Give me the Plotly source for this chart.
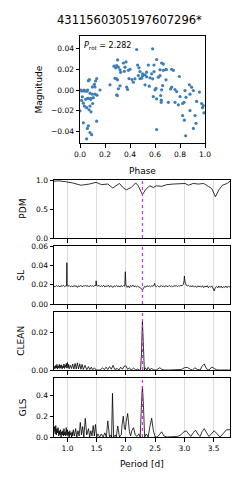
import plotly.graph_objects as go

TITLE = "4311560305197607296*"
P_ROT = 2.282

# Phase-folded light curve (phase, magnitude)
LC_POINTS = [
    (0.000, -0.020), (0.008, 0.000), (0.013, -0.001), (0.013, -0.010), (0.019, -0.0065),
    (0.027, -0.0127), (0.027, -0.0316), (0.032, 0.000), (0.035, -0.001), (0.035, -0.0155),
    (0.045, -0.009), (0.048, -0.001), (0.053, -0.017), (0.053, -0.047), (0.056, -0.001),
    (0.059, -0.037), (0.061, 0.000), (0.060, -0.008), (0.067, 0.009), (0.067, -0.008),
    (0.067, -0.0345), (0.072, -0.019), (0.075, 0.010), (0.080, -0.003), (0.080, -0.0155),
    (0.080, -0.041), (0.085, -0.009), (0.088, -0.008), (0.088, -0.021), (0.093, -0.043),
    (0.099, 0.003), (0.099, -0.004), (0.101, -0.013), (0.107, -0.0074), (0.115, 0.0055),
    (0.120, -0.004), (0.125, 0.0087), (0.133, 0.011), (0.133, -0.030), (0.136, -0.005),
    (0.120, 0.003), (0.160, 0.000),
    (0.240, 0.005), (0.272, 0.023), (0.280, 0.0113), (0.285, 0.0214), (0.293, 0.0235),
    (0.293, 0.0108), (0.293, -0.0046), (0.299, -0.0053), (0.300, 0.0098), (0.301, 0.029),
    (0.307, 0.022), (0.307, 0.0012), (0.320, 0.0195), (0.320, 0.004), (0.325, 0.017),
    (0.347, 0.026), (0.355, 0.018), (0.360, 0.022), (0.368, 0.027), (0.373, 0.0027),
    (0.381, 0.0005), (0.387, 0.019), (0.392, 0.011), (0.400, 0.020), (0.416, 0.0101),
    (0.427, 0.0075), (0.440, 0.0108), (0.453, 0.039), (0.461, 0.024), (0.467, 0.014),
    (0.472, 0.0214), (0.480, 0.011), (0.480, 0.0178), (0.493, 0.0114), (0.501, 0.0156),
    (0.501, 0.0137), (0.520, 0.0146), (0.520, 0.005), (0.533, 0.0172), (0.533, 0.0127),
    (0.547, 0.024), (0.554, 0.0037), (0.560, 0.0117), (0.573, 0.0156), (0.581, 0.0108),
    (0.581, 0.0397), (0.587, -0.0063), (0.592, 0.024), (0.592, 0.0178), (0.600, 0.0002),
    (0.608, 0.0015), (0.613, 0.0294), (0.613, -0.0085), (0.613, -0.038), (0.627, 0.0124),
    (0.640, 0.0138), (0.640, 0.0195), (0.645, -0.0053), (0.650, -0.0098), (0.650, -0.0118),
    (0.653, 0.026), (0.653, 0.0002), (0.661, 0.0043), (0.667, 0.025), (0.667, 0.019),
    (0.688, 0.020), (0.688, 0.0098), (0.690, 0.0195), (0.707, -0.0118), (0.725, 0.0011),
    (0.733, 0.020), (0.733, 0.0027), (0.747, 0.019), (0.760, 0.0005), (0.760, -0.0118),
    (0.773, -0.0015), (0.787, -0.0143), (0.795, 0.013), (0.800, -0.0063), (0.821, -0.013),
    (0.821, -0.0246), (0.832, -0.0118), (0.835, -0.029), (0.840, -0.0005), (0.845, -0.044),
    (0.848, -0.007), (0.875, 0.005), (0.880, -0.004), (0.880, -0.0198), (0.893, 0.0027),
    (0.907, -0.0005), (0.907, -0.037), (0.920, -0.0246), (0.928, -0.032), (0.933, -0.011),
    (0.955, -0.002), (0.973, -0.013), (0.980, -0.017), (0.987, -0.015), (0.992, -0.022),
]
PHASE = [p for p, m in LC_POINTS]
MAG = [m for p, m in LC_POINTS]

# PDM theta vs period
PDM_POINTS = [
    (0.77, 0.98), (0.857, 0.985), (0.97, 0.97), (1.086, 0.95), (1.23, 0.91), (1.374, 0.93),
    (1.49, 0.96), (1.58, 0.92), (1.69, 0.93), (1.776, 0.86), (1.83, 0.90), (1.89, 0.94),
    (1.94, 0.88), (2.006, 0.83), (2.09, 0.87), (2.167, 0.95), (2.21, 0.90), (2.282, 0.75),
    (2.35, 0.85), (2.41, 0.90), (2.47, 0.87), (2.52, 0.90), (2.61, 0.89), (2.70, 0.92),
    (2.81, 0.93), (2.93, 0.94), (3.01, 0.94), (3.07, 0.91), (3.15, 0.94), (3.24, 0.93),
    (3.33, 0.94), (3.41, 0.89), (3.47, 0.85), (3.53, 0.71), (3.59, 0.83), (3.65, 0.91),
    (3.73, 0.94), (3.78, 0.98),
]
PDM_P = [p for p, v in PDM_POINTS]
PDM_V = [v for p, v in PDM_POINTS]

# String length periodogram
SL_POINTS = [
    (0.77, 0.0185), (0.79, 0.0178), (0.81, 0.0192), (0.83, 0.0181), (0.85, 0.0189), (0.87, 0.0176),
    (0.89, 0.0190), (0.91, 0.0183), (0.93, 0.0194), (0.95, 0.0180), (0.97, 0.0188), (0.985, 0.0186),
    (0.99, 0.0427), (0.995, 0.0190), (1.01, 0.0183), (1.03, 0.0192), (1.05, 0.0179), (1.07, 0.0187),
    (1.09, 0.0175), (1.11, 0.0191), (1.13, 0.0182), (1.15, 0.0190), (1.17, 0.0171), (1.19, 0.0188),
    (1.21, 0.0180), (1.23, 0.0193), (1.25, 0.0178), (1.27, 0.0189), (1.29, 0.0183), (1.31, 0.0196),
    (1.33, 0.0180), (1.35, 0.0191), (1.37, 0.0177), (1.39, 0.0192), (1.41, 0.0184), (1.43, 0.0190),
    (1.45, 0.0181), (1.47, 0.0195), (1.485, 0.0188), (1.49, 0.0240), (1.50, 0.0192), (1.52, 0.0185),
    (1.54, 0.0194), (1.56, 0.0179), (1.58, 0.0190), (1.60, 0.0182), (1.62, 0.0193), (1.64, 0.0176),
    (1.66, 0.0188), (1.68, 0.0181), (1.70, 0.0195), (1.72, 0.0174), (1.74, 0.0190), (1.76, 0.0183),
    (1.78, 0.0172), (1.80, 0.0189), (1.82, 0.0180), (1.84, 0.0193), (1.86, 0.0178), (1.88, 0.0187),
    (1.90, 0.0176), (1.92, 0.0192), (1.94, 0.0179), (1.96, 0.0190), (1.98, 0.0184), (1.99, 0.0334),
    (2.00, 0.0200), (2.02, 0.0172), (2.04, 0.0188), (2.06, 0.0168), (2.08, 0.0192), (2.10, 0.0181),
    (2.12, 0.0196), (2.14, 0.0178), (2.16, 0.0189), (2.18, 0.0175), (2.20, 0.0186), (2.22, 0.0177),
    (2.25, 0.0170), (2.265, 0.0160), (2.282, 0.0145), (2.30, 0.0165), (2.32, 0.0183), (2.34, 0.0174),
    (2.36, 0.0191), (2.38, 0.0180), (2.40, 0.0188), (2.42, 0.0176), (2.44, 0.0190), (2.46, 0.0182),
    (2.48, 0.0194), (2.49, 0.0212), (2.50, 0.0186), (2.52, 0.0178), (2.54, 0.0190), (2.56, 0.0181),
    (2.58, 0.0176), (2.60, 0.0192), (2.62, 0.0180), (2.64, 0.0188), (2.66, 0.0174), (2.68, 0.0190),
    (2.70, 0.0183), (2.72, 0.0179), (2.74, 0.0192), (2.76, 0.0181), (2.78, 0.0187), (2.80, 0.0176),
    (2.82, 0.0190), (2.84, 0.0184), (2.86, 0.0192), (2.88, 0.0180), (2.90, 0.0189), (2.92, 0.0185),
    (2.94, 0.0193), (2.96, 0.0188), (2.98, 0.0200), (2.995, 0.0240), (3.00, 0.0290), (3.01, 0.0230),
    (3.03, 0.0195), (3.05, 0.0188), (3.07, 0.0192), (3.09, 0.0181), (3.11, 0.0187), (3.13, 0.0179),
    (3.15, 0.0190), (3.17, 0.0176), (3.19, 0.0185), (3.21, 0.0172), (3.23, 0.0188), (3.25, 0.0178),
    (3.27, 0.0186), (3.29, 0.0174), (3.31, 0.0189), (3.33, 0.0170), (3.35, 0.0185), (3.37, 0.0176),
    (3.39, 0.0190), (3.41, 0.0168), (3.43, 0.0182), (3.45, 0.0175), (3.47, 0.0188), (3.49, 0.0160),
    (3.51, 0.0135), (3.53, 0.0172), (3.55, 0.0183), (3.57, 0.0166), (3.59, 0.0187), (3.61, 0.0170),
    (3.63, 0.0185), (3.65, 0.0165), (3.67, 0.0180), (3.69, 0.0172), (3.71, 0.0186), (3.73, 0.0168),
    (3.75, 0.0184), (3.78, 0.0175),
]
SL_P = [p for p, v in SL_POINTS]
SL_V = [v for p, v in SL_POINTS]

# CLEAN periodogram
CLEAN_POINTS = [
    (0.77, 0.0005), (0.78, 0.0020), (0.79, 0.0008), (0.80, 0.0025), (0.81, 0.0010), (0.82, 0.0030),
    (0.83, 0.0005), (0.84, 0.0022), (0.85, 0.0012), (0.86, 0.0030), (0.87, 0.0008), (0.88, 0.0025),
    (0.89, 0.0010), (0.90, 0.0028), (0.91, 0.0006), (0.92, 0.0020), (0.93, 0.0012), (0.94, 0.0032),
    (0.95, 0.0008), (0.96, 0.0025), (0.97, 0.0015), (0.98, 0.0035), (0.99, 0.0010), (1.00, 0.0040),
    (1.01, 0.0012), (1.02, 0.0030), (1.03, 0.0006), (1.05, 0.0025), (1.07, 0.0008), (1.09, 0.0032),
    (1.11, 0.0005), (1.13, 0.0035), (1.15, 0.0005), (1.17, 0.0038), (1.19, 0.0006), (1.21, 0.0033),
    (1.23, 0.0004), (1.25, 0.0030), (1.27, 0.0003), (1.30, 0.0025), (1.33, 0.0002), (1.36, 0.0018),
    (1.38, 0.0002), (1.41, 0.0015), (1.43, 0.0001), (1.46, 0.0012), (1.49, 0.0000), (1.53, 0.0002),
    (1.56, 0.0000), (1.60, 0.0012), (1.63, 0.0002), (1.66, 0.0015), (1.69, 0.0003), (1.72, 0.0018),
    (1.75, 0.0004), (1.78, 0.0025), (1.81, 0.0003), (1.85, 0.0008), (1.88, 0.0000), (1.91, 0.0015),
    (1.94, 0.0004), (1.97, 0.0020), (2.00, 0.0022), (2.03, 0.0003), (2.06, 0.0012), (2.09, 0.0000),
    (2.13, 0.0010), (2.17, 0.0000), (2.20, 0.0005), (2.23, 0.0000), (2.25, 0.0002), (2.265, 0.0080),
    (2.275, 0.0220), (2.282, 0.0259), (2.29, 0.0200), (2.30, 0.0070), (2.315, 0.0000), (2.33, 0.0012),
    (2.36, 0.0000), (2.38, 0.0014), (2.41, 0.0000), (2.44, 0.0010), (2.47, 0.0000), (2.52, 0.0000),
    (2.55, 0.0008), (2.58, 0.0012), (2.61, 0.0004), (2.65, 0.0000), (2.75, 0.0000), (2.85, 0.0000),
    (2.95, 0.0003), (3.00, 0.0012), (3.05, 0.0014), (3.10, 0.0004), (3.14, 0.0000), (3.18, 0.0012),
    (3.22, 0.0003), (3.27, 0.0000), (3.30, 0.0020), (3.34, 0.0032), (3.38, 0.0006), (3.42, 0.0000),
    (3.47, 0.0016), (3.51, 0.0008), (3.56, 0.0000), (3.65, 0.0000), (3.72, 0.0002), (3.78, 0.0000),
]
CLEAN_P = [p for p, v in CLEAN_POINTS]
CLEAN_V = [v for p, v in CLEAN_POINTS]

# Generalised Lomb-Scargle periodogram
GLS_POINTS = [
    (0.77, 0.05), (0.78, 0.10), (0.79, 0.03), (0.80, 0.11), (0.81, 0.02), (0.82, 0.08), (0.83, 0.04),
    (0.84, 0.09), (0.85, 0.01), (0.86, 0.06), (0.87, 0.02), (0.88, 0.07), (0.89, 0.00), (0.90, 0.05),
    (0.91, 0.02), (0.92, 0.06), (0.93, 0.01), (0.94, 0.08), (0.95, 0.02), (0.96, 0.05), (0.97, 0.01),
    (0.98, 0.09), (0.99, 0.02), (1.00, 0.07), (1.01, 0.01), (1.02, 0.05), (1.03, 0.00), (1.04, 0.06),
    (1.05, 0.02), (1.06, 0.04), (1.07, 0.00), (1.08, 0.05), (1.09, 0.01), (1.10, 0.07), (1.12, 0.01),
    (1.14, 0.08), (1.16, 0.00), (1.18, 0.06), (1.20, 0.01), (1.22, 0.14), (1.24, 0.02), (1.26, 0.10),
    (1.28, 0.00), (1.305, 0.18), (1.33, 0.02), (1.36, 0.08), (1.38, 0.00), (1.40, 0.06), (1.42, 0.01),
    (1.44, 0.11), (1.46, 0.01), (1.48, 0.12), (1.50, 0.00), (1.52, 0.03), (1.55, 0.00), (1.58, 0.03),
    (1.61, 0.00), (1.64, 0.04), (1.665, 0.00), (1.69, 0.155), (1.72, 0.00), (1.745, 0.02), (1.755, 0.00),
    (1.77, 0.42), (1.79, 0.00), (1.82, 0.02), (1.835, 0.00), (1.86, 0.105), (1.89, 0.00), (1.92, 0.02),
    (1.935, 0.12), (1.955, 0.20), (1.975, 0.08), (1.99, 0.07), (2.005, 0.15), (2.03, 0.226), (2.06, 0.05),
    (2.08, 0.01), (2.10, 0.06), (2.13, 0.09), (2.16, 0.02), (2.19, 0.005), (2.22, 0.03), (2.245, 0.00),
    (2.265, 0.30), (2.282, 0.49), (2.30, 0.30), (2.32, 0.00), (2.35, 0.03), (2.38, 0.00), (2.41, 0.10),
    (2.44, 0.18), (2.47, 0.06), (2.50, 0.00), (2.53, 0.00), (2.57, 0.02), (2.61, 0.05), (2.65, 0.01),
    (2.70, 0.00), (2.80, 0.00), (2.88, 0.005), (2.94, 0.02), (2.98, 0.045), (3.03, 0.06), (3.08, 0.02),
    (3.11, 0.005), (3.15, 0.04), (3.19, 0.065), (3.24, 0.02), (3.27, 0.005), (3.30, 0.05), (3.34, 0.08),
    (3.38, 0.04), (3.42, 0.005), (3.46, 0.03), (3.51, 0.06), (3.56, 0.03), (3.61, 0.00), (3.66, 0.03),
    (3.72, 0.07), (3.78, 0.07),
]
GLS_P = [p for p, v in GLS_POINTS]
GLS_V = [v for p, v in GLS_POINTS]

PANEL_LABELS = ["PDM", "SL", "CLEAN", "GLS"]
PERIOD_TICKS = [1.0, 1.5, 2.0, 2.5, 3.0, 3.5]

# The page body adds an 8 px margin, so the figure is 8 px smaller and every
# reference pixel position is shifted by that offset.
OFF = 8
W, H = 249 - OFF, 480 - OFF
FONT = "DejaVu Sans"


def px(x):
    return (x - OFF) / W


def py(y):
    return 1 - (y - OFF) / H


fig = go.Figure()

fig.add_trace(go.Scatter(x=PHASE, y=MAG, mode="markers", xaxis="x", yaxis="y",
                         marker=dict(color="#3b7dba", size=3.2, line=dict(width=0)),
                         showlegend=False))

curves = [(PDM_P, PDM_V), (SL_P, SL_V), (CLEAN_P, CLEAN_V), (GLS_P, GLS_V)]
for i, (p, v) in enumerate(curves):
    n = i + 2
    fig.add_trace(go.Scatter(x=p, y=v, mode="lines", xaxis=f"x{n}", yaxis=f"y{n}",
                             line=dict(color="black", width=0.8), showlegend=False))

axis_common = dict(showline=True, mirror=True, linecolor="black", linewidth=1,
                   ticks="outside", ticklen=3.5, tickwidth=0.8, tickcolor="black",
                   zeroline=False, automargin=False,
                   tickfont=dict(family=FONT, size=7.5, color="black"))

layout = dict(
    template="none",
    width=W, height=H, margin=dict(l=0, r=0, t=0, b=0, pad=0, autoexpand=False),
    paper_bgcolor="white", plot_bgcolor="white",
    font=dict(family=FONT, color="black"),
    showlegend=False,
)

layout["xaxis"] = dict(domain=[px(80), px(205)], anchor="y", range=[0, 1],
                       tickvals=[0, 0.2, 0.4, 0.6, 0.8, 1.0], tickformat=".1f",
                       showgrid=False, **axis_common)
layout["yaxis"] = dict(domain=[py(143), py(36)], anchor="x", range=[-0.051, 0.052],
                       tickvals=[-0.04, -0.02, 0.0, 0.02, 0.04], tickformat=".2f",
                       showgrid=False, **axis_common)

y_specs = [
    (180, 238, [0, 1.0], [0.0, 0.5, 1.0], ".1f"),
    (246, 304, [0, 0.06], [0.0, 0.02, 0.04, 0.06], ".2f"),
    (312, 370, [0, 0.031], [0.0, 0.02], ".2f"),
    (378, 437, [0, 0.567], [0.0, 0.2, 0.4], ".1f"),
]
for i, (top, bot, yr, tv, fmt) in enumerate(y_specs):
    n = i + 2
    xa = dict(domain=[px(54), px(230)], anchor=f"y{n}", range=[0.77, 3.78],
              tickvals=PERIOD_TICKS, tickformat=".1f",
              showticklabels=(n == 5), showgrid=True,
              gridcolor="#dcdcdc", gridwidth=1, **axis_common)
    if n != 2:
        xa["matches"] = "x2"
    layout[f"xaxis{n}"] = xa
    layout[f"yaxis{n}"] = dict(domain=[py(bot), py(top)], anchor=f"x{n}", range=yr,
                               tickvals=tv, tickformat=fmt, showgrid=False, **axis_common)

fig.update_layout(**layout)

shapes = []
for n in range(2, 6):
    shapes.append(dict(type="line", xref=f"x{n}", yref=f"y{n} domain", x0=P_ROT, x1=P_ROT,
                       y0=0, y1=1, line=dict(color="#ff00ff", width=1, dash="dot"), layer="above"))
fig.update_layout(shapes=shapes)

ann = []
ann.append(dict(text=TITLE, x=px(129), y=py(20), xref="paper", yref="paper", showarrow=False,
                font=dict(family=FONT, size=11.5, color="black"), xanchor="center", yanchor="middle"))
ann.append(dict(text=f"<i>P</i><sub><i>rot</i></sub> = {P_ROT:.3f}", x=px(82), y=py(46),
                xref="paper", yref="paper", showarrow=False, xanchor="left", yanchor="middle",
                font=dict(family=FONT, size=8, color="black")))
ann.append(dict(text="Magnitude", x=px(38), y=py(89.5), xref="paper", yref="paper", showarrow=False,
                textangle=-90, font=dict(family=FONT, size=9, color="black"),
                xanchor="center", yanchor="middle"))
ann.append(dict(text="Phase", x=px(142.5), y=py(171), xref="paper", yref="paper", showarrow=False,
                font=dict(family=FONT, size=9, color="black"), xanchor="center", yanchor="middle"))
ann.append(dict(text="Period [d]", x=px(142), y=py(464), xref="paper", yref="paper", showarrow=False,
                font=dict(family=FONT, size=9, color="black"), xanchor="center", yanchor="middle"))
label_x = [22.7, 20.7, 20.7, 22.7]
for i, (lab, (top, bot, *_)) in enumerate(zip(PANEL_LABELS, y_specs)):
    ann.append(dict(text=lab, x=px(label_x[i]), y=py((top + bot) / 2), xref="paper", yref="paper",
                    showarrow=False, textangle=-90, font=dict(family=FONT, size=9, color="black"),
                    xanchor="center", yanchor="middle"))
fig.update_layout(annotations=ann)

fig.write_html("out.html")
